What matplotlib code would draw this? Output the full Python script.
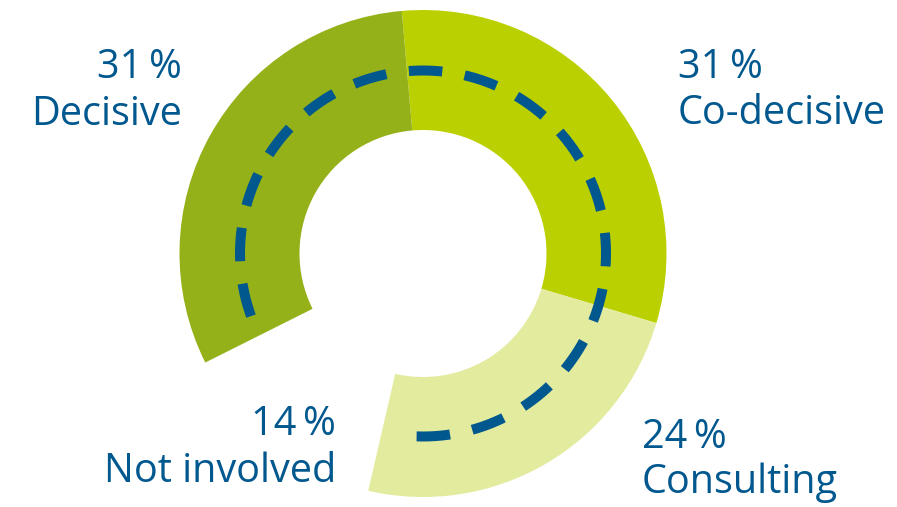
#!/usr/bin/env python3

import numpy as np
import matplotlib

matplotlib.use("Agg")
import matplotlib.pyplot as plt

# Share of involvement, clockwise from the top of the ring
categories = ["Co-decisive", "Consulting", "Not involved", "Decisive"]
shares = [31, 24, 14, 31]
colors = ["#bbd000", "#e3eb9f", "none", "#94b119"]

BLUE = "#00588f"
W, H = 897, 507


def compass_to_xy(deg, r, cx, cy):
    t = np.radians(90 - np.asarray(deg))
    return cx + r * np.cos(t), cy + r * np.sin(t)


def main() -> None:
    plt.rcParams["font.family"] = ["Open Sans", "DejaVu Sans"]
    fig = plt.figure(figsize=(W / 100, H / 100), dpi=100)
    ax = fig.add_axes([0, 0, 1, 1])

    cx, cy = 423, 253.5
    r_out, r_in = 243.5, 123.5
    start = -5  # compass degrees of the first wedge edge

    ax.pie(
        shares,
        colors=colors,
        radius=r_out,
        center=(cx, cy),
        startangle=90 - start,
        counterclock=False,
        wedgeprops={"width": r_out - r_in, "linewidth": 0},
    )

    # Dashed track through the middle of the ring
    r_mid = 183
    a0, a1 = 182, 250  # compass degrees, running counter-clockwise a0 -> a1
    angles = np.linspace(a0, a1 - 360, 600)
    xs, ys = compass_to_xy(angles, r_mid, cx, cy)
    n_dash = 17
    ratio = 23 / 34
    length = np.radians(a0 - (a1 - 360)) * r_mid
    on = length / (n_dash + (n_dash - 1) * ratio)
    lw = 10 * 0.72
    ax.plot(
        xs, ys, color=BLUE, linewidth=lw, solid_capstyle="butt",
        dash_capstyle="butt",
        dashes=(on * 0.72 / lw, on * ratio * 0.72 / lw),
    )

    # Labels: (percent line, name line, x, baselines, alignment)
    fs = 28.5
    labels = [
        (shares[3], categories[3], 182, (78, 125), "right"),
        (shares[0], categories[0], 678, (78, 124), "left"),
        (shares[2], categories[2], 336, (435, 482), "right"),
        (shares[1], categories[1], 642, (448, 493), "left"),
    ]
    for val, name, x, (b1, b2), ha in labels:
        ax.text(x, H - b1, f"{val}\u2009%", color=BLUE, fontsize=fs,
                ha=ha, va="baseline")
        ax.text(x, H - b2, name, color=BLUE, fontsize=fs,
                ha=ha, va="baseline")

    ax.set_aspect("equal")
    ax.set_xlim(0, W)
    ax.set_ylim(0, H)
    ax.axis("off")
    fig.savefig("out.png", dpi=100)


if __name__ == "__main__":
    main()
